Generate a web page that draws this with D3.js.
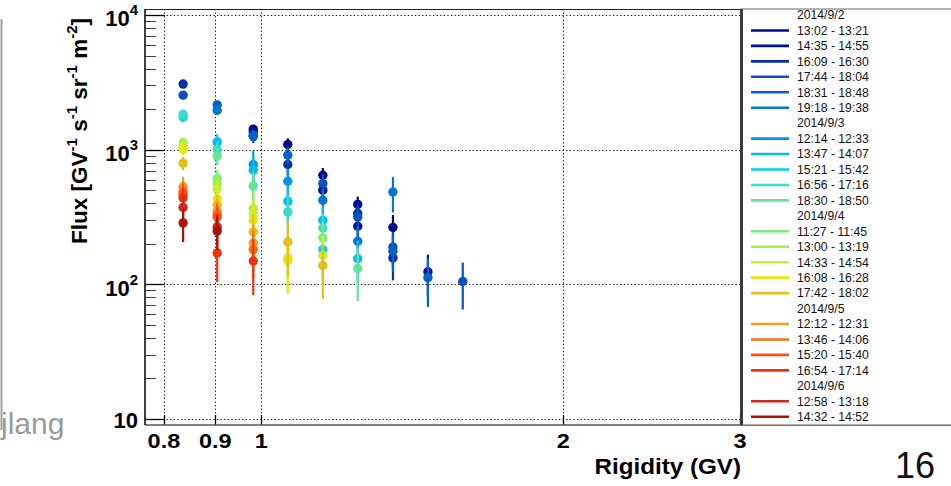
<!DOCTYPE html>
<html>
<head>
<meta charset="utf-8">
<script src="https://cdn.jsdelivr.net/npm/d3@7"></script>
<style>
  html, body { margin: 0; padding: 0; background: #fff; }
  svg { display: block; }
  text { font-family: "Liberation Sans", Arial, Helvetica, sans-serif; }
</style>
</head>
<body>
<svg id="chart" width="951" height="486"></svg>
<script>
// Rigidity bin centres (GV)
const rigidity = [0.836, 0.904, 0.982, 1.063, 1.152, 1.248, 1.353, 1.466, 1.588];

// Measurement days and the time windows taken on each day
const days = ["2014/9/2", "2014/9/3", "2014/9/4", "2014/9/5", "2014/9/6"];
const windows = [
  ["13:02 - 13:21", "14:35 - 14:55", "16:09 - 16:30", "17:44 - 18:04", "18:31 - 18:48", "19:18 - 19:38"],
  ["12:14 - 12:33", "13:47 - 14:07", "15:21 - 15:42", "16:56 - 17:16", "18:30 - 18:50"],
  ["11:27 - 11:45", "13:00 - 13:19", "14:33 - 14:54", "16:08 - 16:28", "17:42 - 18:02"],
  ["12:12 - 12:31", "13:46 - 14:06", "15:20 - 15:40", "16:54 - 17:14"],
  ["12:58 - 13:18", "14:32 - 14:52"]
];

// One colour per time window, in the order above
const windowColors = [
  "#00088c", "#001596", "#0630aa", "#0a50be", "#0064c8", "#0078d2",
  "#0096e6", "#00bef0", "#00d2f0", "#3cdcc8", "#64e696",
  "#78f078", "#a0f050", "#c8f032", "#e6e614", "#e6be14",
  "#f0a01e", "#fa6e14", "#fa501e", "#f0320a",
  "#d2281e", "#aa140a"
];

// Flux per time window and rigidity bin (GV^-1 s^-1 sr^-1 m^-2); null = no point
const flux = [
  [null, null, 1419, 1093, 646, 392, 264, null, null],
  [null, null, 1350, null, 500, 270, null, 124, null],
  [3070, null, null, 776, null, 336, 157, null, null],
  [2540, null, 1282, null, 561, 317, 189, null, 105],
  [null, 2150, 1250, 910, null, null, 176, 112, null],
  [null, 1960, null, null, 421, 209, 485, null, null],
  [null, null, 776, 583, null, null, null, null, null],
  [null, 1143, 704, 414, 299, 155, null, null, null],
  [1750, null, null, null, 181, null, null, null, null],
  [1828, 1000, null, 345, 262, null, null, null, null],
  [null, 896, 536, null, null, 131, null, null, null],
  [null, 611, null, null, 221, null, null, null, null],
  [1124, 560, 366, null, null, null, null, null, null],
  [1060, 508, 330, 157, 164, null, null, null, null],
  [1010, 433, 299, 150, null, null, null, null, null],
  [794, 386, 245, 206, 138, null, null, null, null],
  [529, 350, 203, null, null, null, null, null, null],
  [490, 331, 181, null, null, null, null, null, null],
  [467, 316, null, null, null, null, null, null, null],
  [438, 171, 149, null, null, null, null, null, null],
  [372, 267, null, null, null, null, null, null, null],
  [286, 249, null, null, null, null, null, null, null]
];

// Statistical uncertainty of each flux point
const fluxErr = [
  [null, null, 110, 120, 85, 56, 63, null, null],
  [null, null, 120, null, 90, 60, null, 42, null],
  [180, null, null, 140, null, 65, 50, null, null],
  [170, null, 130, null, 95, 62, 55, null, 40],
  [null, 150, 130, 130, null, null, 52, 44, null],
  [null, 150, null, null, 90, 60, 143, null, null],
  [null, null, 200, 140, null, null, null, null, null],
  [null, 160, 180, 120, 80, 55, null, null, null],
  [150, null, null, null, 65, null, null, null, null],
  [150, 140, null, 110, 75, null, null, null, null],
  [null, 130, 150, null, null, 56, null, null, null],
  [null, 95, null, null, 70, null, null, null, null],
  [100, 90, 110, null, null, null, null, null, null],
  [100, 90, 100, 69, 65, null, null, null, null],
  [100, 80, 95, 65, null, null, null, null, null],
  [90, 75, 85, 90, 60, null, null, null, null],
  [100, 70, 75, null, null, null, null, null, null],
  [90, 70, 70, null, null, null, null, null, null],
  [85, 70, null, null, null, null, null, null, null],
  [80, 67, 66, null, null, null, null, null, null],
  [80, 65, null, null, null, null, null, null, null],
  [80, 70, null, null, null, null, null, null, null]
];

const xTickValues = [0.8, 0.9, 1, 2, 3];
const xTickLabels = ["0.8", "0.9", "1", "2", "3"];
const yDecades = [10, 100, 1000, 10000];
const yExponents = ["", "2", "3", "4"];

const svg = d3.select("#chart");

// Frame geometry
const frameL = 145, frameR = 740, frameT = 9, frameB = 425;

const x = d3.scaleLog().domain([0.766, 3.0]).range([frameL, frameR]);
const y = d3.scaleLog().domain([9.02, 11080]).range([frameB, frameT]);

// slide border line on the left edge
svg.append("line")
  .attr("x1", 1.5).attr("x2", 1.5).attr("y1", 19).attr("y2", 430)
  .attr("stroke", "#a0a0a0").attr("stroke-width", 2);

// dotted grid
const grid = svg.append("g").attr("stroke", "#000").attr("stroke-width", 1)
  .attr("stroke-dasharray", "1.2,2.4");
grid.selectAll("line.v").data(xTickValues).join("line")
  .attr("class", "v")
  .attr("x1", d => Math.round(x(d)) + 0.5).attr("x2", d => Math.round(x(d)) + 0.5)
  .attr("y1", frameT).attr("y2", frameB);
grid.selectAll("line.h").data(yDecades).join("line")
  .attr("class", "h")
  .attr("x1", frameL).attr("x2", frameR)
  .attr("y1", d => Math.round(y(d)) + 0.5).attr("y2", d => Math.round(y(d)) + 0.5);

// y axis ticks: majors at decades, minors at 2..9
const yMinor = [];
[1, 10, 100, 1000].forEach(dec => {
  for (let k = 2; k <= 9; k++) {
    const v = dec * k;
    if (v >= y.domain()[0] && v <= y.domain()[1]) yMinor.push(v);
  }
});
const yAxisG = svg.append("g");
yAxisG.selectAll("line.minor").data(yMinor).join("line")
  .attr("x1", frameL).attr("x2", frameL + 11)
  .attr("y1", d => Math.round(y(d)) + 0.5).attr("y2", d => Math.round(y(d)) + 0.5)
  .attr("stroke", "#444").attr("stroke-width", 1);
yAxisG.selectAll("line.major").data(yDecades).join("line")
  .attr("x1", frameL).attr("x2", frameL + 20)
  .attr("y1", d => Math.round(y(d)) + 0.5).attr("y2", d => Math.round(y(d)) + 0.5)
  .attr("stroke", "#000").attr("stroke-width", 1.3);

// x axis ticks
svg.append("g").selectAll("line").data(xTickValues).join("line")
  .attr("x1", d => Math.round(x(d)) + 0.5).attr("x2", d => Math.round(x(d)) + 0.5)
  .attr("y1", frameB).attr("y2", frameB - 10)
  .attr("stroke", "#000").attr("stroke-width", 1.3);

// frame
svg.append("line").attr("x1", frameL).attr("x2", frameR).attr("y1", frameT + 0.5).attr("y2", frameT + 0.5)
  .attr("stroke", "#222").attr("stroke-width", 1.2);
svg.append("line").attr("x1", frameL).attr("x2", 951).attr("y1", frameB).attr("y2", frameB)
  .attr("stroke", "#555").attr("stroke-width", 1.3);
svg.append("line").attr("x1", frameL).attr("x2", frameL).attr("y1", frameT).attr("y2", frameB)
  .attr("stroke", "#000").attr("stroke-width", 1.5);

// y tick labels: 10, 10^2, 10^3, 10^4
const yLab = svg.append("g").attr("font-weight", "bold").attr("fill", "#000");
yDecades.forEach((d, i) => {
  const exp = yExponents[i];
  const t = yLab.append("text")
    .attr("x", 138)
    .attr("y", y(d) + (exp ? 11.5 : 9.3))
    .attr("text-anchor", "end")
    .attr("font-size", 22);
  t.append("tspan").text("10");
  if (exp) {
    t.append("tspan").attr("font-size", 15).attr("dy", -11).text(exp);
  }
});

// x tick labels (slightly wide bold face)
svg.append("g").attr("font-weight", "bold")
  .selectAll("text").data(xTickValues).join("text")
  .attr("transform", d => `translate(${x(d)},448) scale(1.12,1)`)
  .attr("text-anchor", "middle").attr("font-size", 21)
  .text((d, i) => xTickLabels[i]);

// axis titles
svg.append("text")
  .attr("transform", "translate(741,474) scale(1.1,1)")
  .attr("text-anchor", "end").attr("font-size", 22).attr("font-weight", "bold")
  .text("Rigidity (GV)");

const yTitle = svg.append("text")
  .attr("transform", "translate(87,18) rotate(-90)")
  .attr("text-anchor", "end").attr("font-size", 22.5).attr("font-weight", "bold");
const titleParts = [["Flux [GV", null], ["-1", "sup"], [" s", null], ["-1", "sup"],
  [" sr", null], ["-1", "sup"], [" m", null], ["-2", "sup"], ["]", null]];
let raised = false;
titleParts.forEach(([s, kind]) => {
  const ts = yTitle.append("tspan").text(s);
  if (kind === "sup") {
    ts.attr("font-size", 15).attr("dy", raised ? 0 : -10);
    raised = true;
  } else {
    ts.attr("dy", raised ? 10 : 0);
    raised = false;
  }
});

// data: error bars then markers, one group per time window
const dataG = svg.append("g");
flux.forEach((row, s) => {
  const pts = row.map((v, j) => ({ r: rigidity[j], v, e: fluxErr[s][j] }))
    .filter(p => p.v != null);
  const g = dataG.append("g").attr("fill", windowColors[s]).attr("stroke", windowColors[s]);
  g.selectAll("line").data(pts).join("line")
    .attr("x1", p => x(p.r)).attr("x2", p => x(p.r))
    .attr("y1", p => y(p.v + p.e)).attr("y2", p => y(Math.max(p.v - p.e, 1)))
    .attr("stroke-width", 2.2);
  g.selectAll("circle").data(pts).join("circle")
    .attr("cx", p => x(p.r)).attr("cy", p => y(p.v))
    .attr("r", 4.7).attr("stroke", "none");
});

// legend box
const lg = svg.append("g");
lg.append("rect").attr("x", 741).attr("y", frameT).attr("width", 220).attr("height", frameB - frameT)
  .attr("fill", "#fff").attr("stroke", "#666").attr("stroke-width", 1);
lg.append("line").attr("x1", 741.5).attr("x2", 741.5).attr("y1", frameT).attr("y2", frameB)
  .attr("stroke", "#3a3a3a").attr("stroke-width", 3);

const legendRows = [];
let w = 0;
days.forEach((day, di) => {
  legendRows.push({ label: day, color: null });
  windows[di].forEach(win => { legendRows.push({ label: win, color: windowColors[w++] }); });
});
const rowY = i => 15 + i * 15.45;
legendRows.forEach((row, i) => {
  if (row.color) {
    lg.append("line").attr("x1", 751).attr("x2", 789)
      .attr("y1", rowY(i)).attr("y2", rowY(i))
      .attr("stroke", row.color).attr("stroke-width", 2.6);
  }
  lg.append("text").attr("x", 797).attr("y", rowY(i) + 4.3)
    .attr("font-size", 12.2).attr("fill", "#111").text(row.label);
});

// footer: author and page number
svg.append("text").attr("x", 1).attr("y", 434)
  .attr("font-family", "'Open Sans', Lato, sans-serif").attr("font-size", 30)
  .attr("fill", "#9a9a9a").text("jlang");
svg.append("text").attr("x", 935).attr("y", 478)
  .attr("text-anchor", "end").attr("font-size", 36).attr("fill", "#111").text("16");
</script>
</body>
</html>
